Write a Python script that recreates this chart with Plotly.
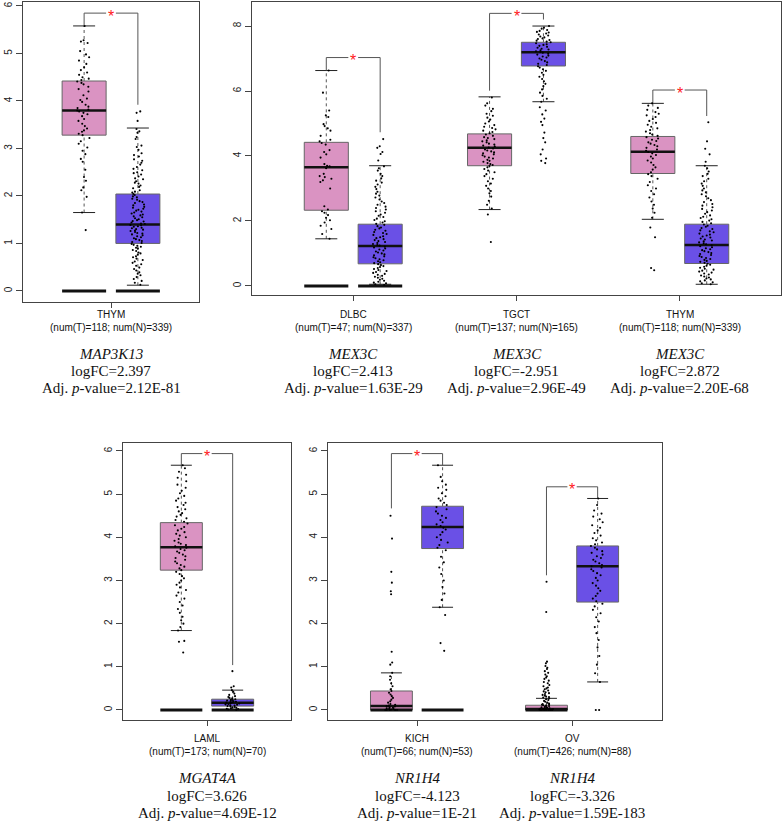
import plotly.graph_objects as go

W, H = 784, 822

# ---------------- data ----------------
categories = ["THYM", "DLBC", "TGCT", "THYM", "LAML", "KICH", "OV"]
panel_of = [0, 1, 1, 1, 2, 3, 3]
pos_in_panel = [1, 1, 2, 3, 1, 1, 2]
num_T = [118, 47, 137, 118, 173, 66, 426]
num_N = [339, 337, 165, 339, 70, 53, 88]
genes = ["MAP3K13", "MEX3C", "MEX3C", "MEX3C", "MGAT4A", "NR1H4", "NR1H4"]
logfc = ["2.397", "2.413", "-2.951", "2.872", "3.626", "-4.123", "-3.326"]
adjp = ["2.12E-81", "1.63E-29", "2.96E-49", "2.20E-68", "4.69E-12", "1E-21", "1.59E-183"]

# tumor (T, pink) box statistics
T_lo = [1.65, 1.45, 2.35, 2.05, 1.84, 0.0, 0.0]
T_q1 = [3.28, 2.33, 3.70, 3.46, 3.24, 0.0, 0.0]
T_med = [3.80, 3.65, 4.25, 4.13, 3.77, 0.09, 0.02]
T_q3 = [4.42, 4.42, 4.68, 4.60, 4.34, 0.44, 0.11]
T_hi = [5.58, 6.63, 5.82, 5.62, 5.67, 0.86, 0.27]
# normal (N, blue) box statistics
N_lo = [0.12, 0.05, 5.67, 0.05, 0.0, 2.38, 0.65]
N_q1 = [1.00, 0.68, 6.77, 0.69, 0.09, 3.74, 2.50]
N_med = [1.40, 1.23, 7.19, 1.26, 0.17, 4.24, 3.33]
N_q3 = [2.04, 1.90, 7.50, 1.90, 0.25, 4.72, 3.80]
N_hi = [3.43, 3.70, 8.00, 3.70, 0.46, 5.67, 4.90]
# all-zero subsets drawn as a flat bar at 0
zero_T = [1, 1, 0, 0, 1, 1, 1]
zero_N = [1, 1, 0, 0, 1, 1, 0]
# significance brackets
bracket_top = [5.85, 7.03, 8.39, 6.03, 5.94, 5.94, 5.17]
bracket_T_end = [5.58, 6.63, 6.01, 5.62, 5.67, 4.67, 3.12]
bracket_N_end = [3.92, 4.73, 8.20, 5.23, 1.04, 5.67, 4.90]

T_pts = [
    [5.58, 5.28, 5.22, 5.25, 5.05, 4.98, 4.92, 4.85, 4.78, 4.71, 4.65, 4.6, 4.55, 4.5, 4.47, 4.44, 4.41, 4.38, 4.35, 4.3,
     4.25, 4.2, 4.12, 4.05, 4.02, 3.98, 3.92, 3.88, 3.85, 3.82, 3.8, 3.78, 3.75, 3.72, 3.68, 3.62, 3.58, 3.52, 3.47, 3.42,
     3.38, 3.35, 3.31, 3.28, 3.22, 3.15, 3.1, 3.02, 2.95, 2.88, 2.78, 2.72, 2.55, 2.4, 2.32, 2.18, 2.12, 1.98, 1.65, 1.28],
    [6.63, 5.95, 5.4, 5.25, 5.2, 4.98, 4.92, 4.85, 4.78, 4.62, 4.5, 4.45, 4.4, 4.35, 4.18, 4.12, 4.05, 3.95, 3.75, 3.7,
     3.68, 3.62, 3.45, 3.38, 3.35, 3.3, 3.25, 3.2, 3.0, 2.45, 2.35, 2.3, 2.25, 2.18, 2.1, 2.02, 1.95, 1.85, 1.75, 1.6, 1.45],
    [5.8, 5.62, 5.55, 5.45, 5.38, 5.3, 5.24, 5.18, 5.12, 5.06, 5.0, 4.95, 4.9, 4.86, 4.82, 4.78, 4.74, 4.7, 4.66, 4.62,
     4.58, 4.55, 4.52, 4.48, 4.45, 4.42, 4.38, 4.35, 4.32, 4.29, 4.26, 4.23, 4.2, 4.17, 4.14, 4.11, 4.08, 4.05, 4.02, 3.98,
     3.95, 3.92, 3.88, 3.85, 3.82, 3.78, 3.75, 3.72, 3.69, 3.65, 3.6, 3.55, 3.5, 3.44, 3.38, 3.3, 3.22, 3.15, 3.08, 3.0,
     2.92, 2.85, 2.75, 2.62, 2.5, 2.38, 2.2, 1.35],
    [5.62, 5.55, 5.48, 5.42, 5.35, 5.3, 5.25, 5.2, 5.14, 5.08, 5.02, 4.96, 4.9, 4.85, 4.8, 4.75, 4.7, 4.66, 4.62, 4.58,
     4.54, 4.5, 4.46, 4.42, 4.38, 4.34, 4.3, 4.25, 4.2, 4.16, 4.12, 4.08, 4.03, 3.98, 3.92, 3.86, 3.8, 3.72, 3.65, 3.58,
     3.5, 3.44, 3.38, 3.3, 3.2, 3.1, 3.0, 2.92, 2.82, 2.72, 2.6, 2.5, 2.38, 2.25, 2.1, 1.8, 1.5, 0.55, 0.48],
    [5.67, 5.6, 5.52, 5.45, 5.38, 5.3, 5.22, 5.15, 5.08, 5.02, 4.96, 4.9, 4.85, 4.8, 4.75, 4.7, 4.65, 4.6, 4.56, 4.52,
     4.48, 4.44, 4.4, 4.36, 4.32, 4.28, 4.24, 4.2, 4.16, 4.12, 4.08, 4.04, 4.0, 3.96, 3.92, 3.88, 3.85, 3.82, 3.79, 3.76,
     3.73, 3.7, 3.67, 3.64, 3.6, 3.56, 3.52, 3.48, 3.44, 3.4, 3.36, 3.32, 3.28, 3.24, 3.2, 3.15, 3.1, 3.05, 3.0, 2.95,
     2.9, 2.84, 2.78, 2.72, 2.65, 2.58, 2.5, 2.42, 2.34, 2.25, 2.16, 2.08, 2.0, 1.92, 1.84, 1.6, 1.58, 1.33],
    [4.5, 3.97, 3.2, 2.95, 2.75, 2.68, 1.35, 1.1, 1.05, 0.86, 0.78, 0.7, 0.62, 0.55, 0.48, 0.44, 0.4, 0.36, 0.32, 0.28,
     0.24, 0.2, 0.17, 0.14, 0.12, 0.1, 0.09, 0.08, 0.06, 0.05, 0.04, 0.03, 0.02, 0.01, 0.0, 0.0, 0.0, 0.0, 0.0, 0.0],
    [2.97, 2.27, 1.12, 1.08, 1.02, 0.98, 0.95, 0.9, 0.86, 0.82, 0.78, 0.75, 0.72, 0.68, 0.65, 0.62, 0.58, 0.55, 0.52, 0.5,
     0.48, 0.45, 0.43, 0.41, 0.39, 0.37, 0.35, 0.33, 0.31, 0.3, 0.29, 0.27, 0.25, 0.23, 0.21, 0.19, 0.17, 0.15, 0.14, 0.13,
     0.12, 0.11, 0.1, 0.09, 0.08, 0.07, 0.06, 0.05, 0.05, 0.04, 0.04, 0.03, 0.03, 0.02, 0.02, 0.02, 0.01, 0.01, 0.01, 0.0,
     0.0, 0.0, 0.0, 0.0, 0.0, 0.0, 0.0, 0.0, 0.0, 0.0],
]
N_pts = [
    [3.78, 3.75, 3.58, 3.41, 3.36, 3.33, 3.24, 3.2, 3.06, 3.03, 2.97, 2.9, 2.86, 2.83, 2.77, 2.74, 2.7, 2.66, 2.61, 2.57,
     2.54, 2.5, 2.48, 2.45, 2.41, 2.37, 2.35, 2.31, 2.28, 2.26, 2.22, 2.19, 2.16, 2.12, 2.09, 2.07, 2.04, 2.02, 1.99, 1.97,
     1.94, 1.92, 1.89, 1.87, 1.85, 1.82, 1.8, 1.77, 1.75, 1.73, 1.71, 1.69, 1.67, 1.65, 1.63, 1.61, 1.59, 1.57, 1.55, 1.53,
     1.51, 1.49, 1.47, 1.46, 1.44, 1.42, 1.41, 1.39, 1.38, 1.36, 1.35, 1.33, 1.32, 1.3, 1.29, 1.27, 1.26, 1.24, 1.22, 1.21,
     1.19, 1.17, 1.15, 1.13, 1.11, 1.09, 1.07, 1.05, 1.03, 1.01, 0.99, 0.97, 0.95, 0.93, 0.91, 0.89, 0.86, 0.84, 0.81, 0.79,
     0.76, 0.73, 0.71, 0.68, 0.65, 0.62, 0.59, 0.56, 0.53, 0.49, 0.46, 0.43, 0.39, 0.36, 0.33, 0.29, 0.25, 0.21, 0.17, 0.13],
    [4.52, 4.3, 4.25, 4.12, 4.06, 3.86, 3.68, 3.62, 3.55, 3.45, 3.38, 3.31, 3.24, 3.18, 3.12, 3.05, 2.98, 2.9, 2.84, 2.78,
     2.72, 2.66, 2.6, 2.55, 2.5, 2.44, 2.4, 2.35, 2.3, 2.25, 2.2, 2.16, 2.12, 2.07, 2.03, 1.99, 1.95, 1.91, 1.88, 1.84,
     1.8, 1.77, 1.73, 1.7, 1.66, 1.63, 1.6, 1.57, 1.53, 1.5, 1.47, 1.44, 1.41, 1.38, 1.35, 1.32, 1.29, 1.26, 1.24, 1.21,
     1.18, 1.15, 1.12, 1.09, 1.06, 1.03, 1.0, 0.97, 0.94, 0.91, 0.88, 0.85, 0.82, 0.79, 0.76, 0.73, 0.7, 0.67, 0.64, 0.61,
     0.58, 0.55, 0.52, 0.49, 0.46, 0.43, 0.4, 0.37, 0.34, 0.31, 0.28, 0.25, 0.22, 0.19, 0.16, 0.13, 0.1, 0.08, 0.05, 0.03],
    [8.0, 7.95, 7.92, 7.88, 7.85, 7.82, 7.8, 7.77, 7.74, 7.71, 7.68, 7.65, 7.62, 7.6, 7.57, 7.55, 7.52, 7.5, 7.47, 7.44,
     7.42, 7.39, 7.36, 7.33, 7.3, 7.28, 7.25, 7.22, 7.2, 7.18, 7.15, 7.12, 7.09, 7.06, 7.03, 7.0, 6.96, 6.92, 6.88, 6.84,
     6.8, 6.76, 6.72, 6.67, 6.62, 6.56, 6.5, 6.44, 6.37, 6.3, 6.22, 6.15, 6.05, 5.95, 5.85, 5.76, 5.67, 5.5, 5.4, 5.28,
     5.15, 5.05, 4.95, 4.72, 4.55, 4.42, 4.2, 4.05, 3.92, 3.85, 3.78],
    [5.04, 4.45, 4.22, 4.05, 3.82, 3.7, 3.62, 3.52, 3.45, 3.38, 3.3, 3.22, 3.15, 3.08, 3.0, 2.94, 2.88, 2.82, 2.76, 2.7,
     2.64, 2.58, 2.52, 2.47, 2.42, 2.37, 2.32, 2.27, 2.22, 2.17, 2.13, 2.09, 2.05, 2.01, 1.97, 1.93, 1.89, 1.85, 1.82, 1.78,
     1.75, 1.71, 1.68, 1.65, 1.61, 1.58, 1.55, 1.52, 1.49, 1.46, 1.43, 1.4, 1.37, 1.34, 1.31, 1.28, 1.25, 1.22, 1.19, 1.16,
     1.13, 1.1, 1.07, 1.04, 1.01, 0.98, 0.95, 0.92, 0.89, 0.86, 0.83, 0.8, 0.77, 0.74, 0.71, 0.68, 0.65, 0.62, 0.59, 0.56,
     0.53, 0.5, 0.47, 0.44, 0.41, 0.38, 0.35, 0.32, 0.29, 0.26, 0.23, 0.2, 0.17, 0.14, 0.11, 0.08, 0.05],
    [0.9, 0.55, 0.52, 0.46, 0.42, 0.38, 0.35, 0.32, 0.3, 0.28, 0.27, 0.25, 0.24, 0.23, 0.22, 0.21, 0.2, 0.19, 0.18, 0.17,
     0.17, 0.16, 0.15, 0.14, 0.13, 0.12, 0.11, 0.1, 0.09, 0.08, 0.07, 0.06, 0.05, 0.04, 0.03, 0.02, 0.01, 0.0],
    [5.67, 5.4, 5.3, 5.22, 5.15, 5.1, 5.02, 4.95, 4.9, 4.85, 4.8, 4.75, 4.7, 4.65, 4.6, 4.55, 4.5, 4.45, 4.4, 4.35,
     4.3, 4.26, 4.22, 4.18, 4.12, 4.06, 4.0, 3.94, 3.88, 3.82, 3.76, 3.7, 3.55, 3.42, 3.3, 3.15, 3.0, 2.85, 2.7, 2.55,
     2.38, 2.2, 1.55, 1.37],
    [4.9, 4.75, 4.62, 4.55, 4.48, 4.42, 4.35, 4.28, 4.22, 4.16, 4.1, 4.04, 3.98, 3.93, 3.88, 3.84, 3.8, 3.76, 3.72, 3.68,
     3.64, 3.6, 3.56, 3.52, 3.48, 3.44, 3.4, 3.36, 3.33, 3.3, 3.26, 3.22, 3.17, 3.12, 3.06, 3.0, 2.94, 2.88, 2.82, 2.76,
     2.7, 2.64, 2.58, 2.52, 2.46, 2.4, 2.32, 2.24, 2.15, 2.05, 1.92, 1.78, 1.62, 1.45, 1.25, 1.05, 0.85, 0.65, 0.0, 0.0],
]

# ---------------- layout / style ----------------
PINK = "#DA93C2"
BLUE = "#6A50E6"
OFF = 0.165      # half distance between tumor and normal box
BW = 0.27        # box width (axis units)
GAP = 0.03       # gap around the star in the bracket

# pixel frames (x0, x1, ytop, ybottom)
panel_frames = [(23, 199, 2, 302), (252, 781, 2, 295), (123, 291, 443, 720), (328, 662, 443, 720)]
panel_xrange = [(0.46, 1.54), (0.38, 3.62), (0.46, 1.54), (0.426, 2.58)]
panel_yrange = [(-0.234, 6.084), (-0.28, 8.74), (-0.232, 6.185), (-0.232, 6.185)]
panel_yticks = [[0, 1, 2, 3, 4, 5, 6], [0, 2, 4, 6, 8], [0, 1, 2, 3, 4, 5, 6], [0, 1, 2, 3, 4, 5, 6]]
# text rows (pixel y): category, num line, gene, logFC, adj p
text_rows = {0: (315, 328, 354, 371, 388), 1: (738, 751, 778, 796, 813)}

SANS = "Liberation Sans, Arial, Helvetica, sans-serif"
SERIF = "Liberation Serif, Times New Roman, serif"

fig = go.Figure()
shapes = []
annotations = []


def axnames(p):
    return ("x" if p == 0 else f"x{p + 1}", "y" if p == 0 else f"y{p + 1}")


def seg(xr, yr, x0, y0, x1, y1, color, width, dash="solid"):
    shapes.append(dict(type="line", xref=xr, yref=yr, x0=x0, y0=y0, x1=x1, y1=y1,
                       line=dict(color=color, width=width, dash=dash), layer="below"))


for p, (px0, px1, pyt, pyb) in enumerate(panel_frames):
    suffix = "" if p == 0 else str(p + 1)
    xr, yr = axnames(p)
    group_pos = [pos_in_panel[g] for g in range(len(categories)) if panel_of[g] == p]
    fig.update_layout(**{
        "xaxis" + suffix: dict(domain=[px0 / W, px1 / W], range=list(panel_xrange[p]), anchor=yr,
                               showgrid=False, zeroline=False, showline=True, mirror=True,
                               linecolor="#444", linewidth=1, ticks="outside", ticklen=5,
                               tickcolor="#444", tickvals=group_pos, showticklabels=False),
        "yaxis" + suffix: dict(domain=[1 - pyb / H, 1 - pyt / H], range=list(panel_yrange[p]), anchor=xr,
                               showgrid=False, zeroline=False, showline=True, mirror=True,
                               linecolor="#444", linewidth=1, ticks="outside", ticklen=6,
                               tickcolor="#444", tickvals=panel_yticks[p], tickangle=-90,
                               tickfont=dict(family=SANS, size=10, color="#222")),
    })

for g in range(len(categories)):
    p = panel_of[g]
    xr, yr = axnames(p)
    c = pos_in_panel[g]
    sides = [
        (c - OFF, T_lo[g], T_q1[g], T_med[g], T_q3[g], T_hi[g], PINK, zero_T[g], T_pts[g]),
        (c + OFF, N_lo[g], N_q1[g], N_med[g], N_q3[g], N_hi[g], BLUE, zero_N[g], N_pts[g]),
    ]
    for xc, lo, q1, med, q3, hi, col, zf, pts in sides:
        # whiskers (dashed) and caps
        seg(xr, yr, xc, lo, xc, q1, "#555", 1, "dot")
        seg(xr, yr, xc, q3, xc, hi, "#555", 1, "dot")
        seg(xr, yr, xc - BW / 4, lo, xc + BW / 4, lo, "#222", 1)
        seg(xr, yr, xc - BW / 4, hi, xc + BW / 4, hi, "#222", 1)
        # box
        shapes.append(dict(type="rect", xref=xr, yref=yr, x0=xc - BW / 2, x1=xc + BW / 2, y0=q1, y1=q3,
                           fillcolor=col, line=dict(color="#666", width=1), layer="below"))
        seg(xr, yr, xc - BW / 2, med, xc + BW / 2, med, "#111", 2.5)
        if zf:
            seg(xr, yr, xc - BW / 2, 0, xc + BW / 2, 0, "#111", 3)
        # jittered sample points
        fig.add_trace(go.Box(x=[xc] * len(pts), y=pts, xaxis=xr, yaxis=yr, width=BW,
                             boxpoints="all", jitter=0.35, pointpos=0,
                             marker=dict(color="black", size=2.1),
                             line=dict(color="rgba(0,0,0,0)", width=0),
                             fillcolor="rgba(0,0,0,0)", showlegend=False, hoverinfo="skip"))
    # significance bracket
    xl, xrr, top = c - OFF, c + OFF, bracket_top[g]
    seg(xr, yr, xl, bracket_T_end[g], xl, top, "#555", 1)
    seg(xr, yr, xrr, bracket_N_end[g], xrr, top, "#555", 1)
    seg(xr, yr, xl, top, c - GAP, top, "#555", 1)
    seg(xr, yr, c + GAP, top, xrr, top, "#555", 1)
    annotations.append(dict(xref=xr, yref=yr, x=c, y=top, text="*", showarrow=False,
                            yanchor="middle", yshift=-3, borderpad=0,
                            font=dict(family=SANS, size=16, color="#FF2020")))
    # labels under the panel
    row = 0 if p < 2 else 1
    ycat, ynum, ygene, yfc, yp = text_rows[row]
    label_items = [
        (ycat, categories[g], SANS, 10),
        (ynum, f"(num(T)={num_T[g]}; num(N)={num_N[g]})", SANS, 10),
        (ygene, f"<i>{genes[g]}</i>", SERIF, 15),
        (yfc, f"logFC={logfc[g]}", SERIF, 15),
        (yp, f"Adj. <i>p</i>-value={adjp[g]}", SERIF, 15),
    ]
    for py, txt, fam, sz in label_items:
        annotations.append(dict(xref=xr, yref="paper", x=c, y=1 - py / H, text=txt, showarrow=False,
                                xanchor="center", yanchor="middle", borderpad=0,
                                font=dict(family=fam, size=sz, color="#111")))

fig.update_layout(width=W, height=H, autosize=False, margin=dict(l=0, r=0, t=0, b=0),
                  paper_bgcolor="white", plot_bgcolor="white", boxmode="overlay",
                  shapes=shapes, annotations=annotations, showlegend=False)

fig.write_html("out.html")
